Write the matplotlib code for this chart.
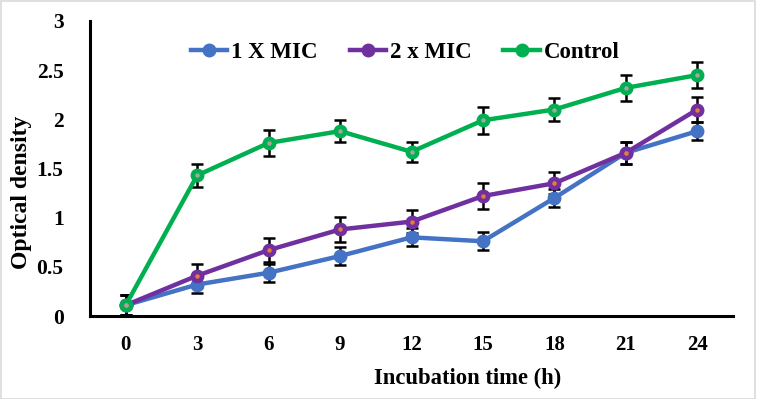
import matplotlib
matplotlib.use("Agg")
import matplotlib.pyplot as plt
import numpy as np

times = ["0", "3", "6", "9", "12", "15", "18", "21", "24"]
mic1 = [0.11, 0.32, 0.44, 0.61, 0.80, 0.76, 1.20, 1.66, 1.88]
mic2 = [0.11, 0.41, 0.67, 0.88, 0.96, 1.22, 1.35, 1.66, 2.10]
control = [0.11, 1.43, 1.76, 1.88, 1.67, 1.99, 2.10, 2.32, 2.45]
err1 = [0.10, 0.09, 0.09, 0.09, 0.09, 0.09, 0.09, 0.11, 0.09]
err2 = [0.10, 0.12, 0.12, 0.13, 0.12, 0.13, 0.11, 0.11, 0.13]
errc = [0.10, 0.12, 0.13, 0.11, 0.10, 0.14, 0.12, 0.13, 0.13]
yticks = [0, 0.5, 1, 1.5, 2, 2.5, 3]
ytick_labels = ["0", "0.5", "1", "1.5", "2", "2.5", "3"]

plt.rcParams['font.family'] = ['Liberation Serif', 'DejaVu Serif']
plt.rcParams['font.weight'] = 'bold'

fig = plt.figure(figsize=(7.57, 3.99), dpi=100)
fig.patches.append(plt.Rectangle((0.001, 0.001), 0.997, 0.996, transform=fig.transFigure,
                                 fill=False, edgecolor='#d9d9d9', linewidth=1.2))
ax = fig.add_axes([90/757, 83/399, 643/757, 295/399])

x = np.arange(len(times))
series = [
    (mic1, err1, '#4472C4', '#4472C4', '1 X MIC'),
    (mic2, err2, '#7030A0', '#ED7D31', '2 x MIC'),
    (control, errc, '#00B050', '#A5A5A5', 'Control'),
]
for vals, errs, col, dot, lab in series:
    ax.errorbar(x, vals, yerr=errs, fmt='none', ecolor='black', elinewidth=1.8,
                capsize=4, capthick=1.8, zorder=2)
for vals, errs, col, dot, lab in series:
    ax.plot(x, vals, color=col, linewidth=3.2, marker='o', markersize=9,
            markerfacecolor=col, markeredgecolor=col, label=lab, zorder=3)
    ax.plot(x, vals, linestyle='none', marker='o', markersize=2.2,
            markerfacecolor=dot, markeredgecolor=dot, zorder=4)

ax.set_xlim(-0.5, len(times) - 0.5)
ax.set_ylim(0, 3)
ax.set_xticks(x)
ax.set_xticklabels(times, fontsize=15, fontweight='bold')
ax.set_yticks(yticks)
ax.set_yticklabels(ytick_labels, fontsize=15.5, fontweight='bold')
ax.tick_params(axis='y', length=0, pad=19)
ax.tick_params(axis='x', length=0, pad=14)
for s in ['top', 'right']:
    ax.spines[s].set_visible(False)
for s in ['left', 'bottom']:
    ax.spines[s].set_linewidth(2.2)
    ax.spines[s].set_color('black')

ax.set_xlabel('Incubation time (h)', fontsize=16.3, fontweight='bold')
ax.xaxis.set_label_coords(0.588, -0.176)
ax.set_ylabel('Optical density', fontsize=17, fontweight='bold')
ax.yaxis.set_label_coords(-0.090, 0.42)

leg = ax.legend(loc='upper center', bbox_to_anchor=(0.49, 1.0), ncol=3, frameon=False,
                prop={'size': 16.5, 'weight': 'bold'}, handlelength=1.6, columnspacing=1.4,
                handletextpad=0.15)

fig.savefig('out.png', dpi=100)
